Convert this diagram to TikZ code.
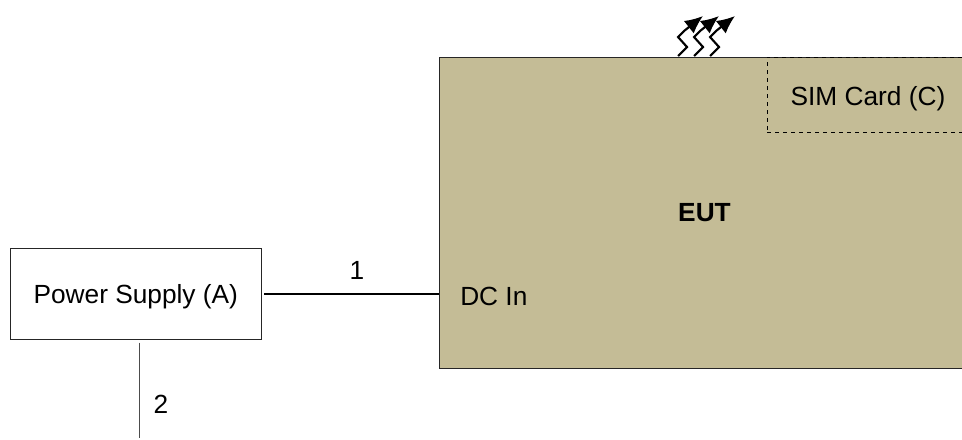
\documentclass[tikz,border=0pt]{standalone}
\usepackage{fontspec}
\setmainfont{Liberation Sans}
\usetikzlibrary{positioning, arrows.meta}
\definecolor{eutfill}{HTML}{C4BC96}

\begin{document}
\begin{tikzpicture}[
x=0.75pt, y=-0.75pt,
every node/.style={
font=\fontsize{19.7pt}{23pt}\selectfont,
text=black,
inner sep=0pt
},
unitbox/.style={
draw=black!85,
rectangle,
line width=0.75pt
},
cable/.style={line width=1.5pt, shorten <=2pt},
thincable/.style={draw=black!70, line width=0.7pt, shorten <=2pt},
emission/.style={line width=1.6pt, -{Latex[length=13.5pt,width=12pt]}}
]
\useasboundingbox (0,0) rectangle (962,439);
\node[unitbox, fill=eutfill, minimum width=394pt, minimum height=233.25pt] (eut) at (702.5,212.5) {};
\node[unitbox, text height=18pt, minimum width=188pt, minimum height=68pt] (psu) at (135.75,294) {Power Supply (A)};
\node[font=\fontsize{19.7pt}{23pt}\selectfont\bfseries] (eutlabel) at (704.5,213) {EUT};
\node[anchor=west] (dcin) at (460,296) {DC In};
\node[draw=black, dashed, line width=0.75pt, minimum width=150pt, minimum height=56.25pt] (sim) at (867,94.5) {};
\node (simlabel) at (868,99) {SIM Card (C)};
\coordinate (psuend) at (139.5,438);
% cables
\draw[cable] (psu.east) -- (psu.east -| eut.west);
\draw[thincable] (psu.south -| psuend) -- (psuend);
\node (one) at (357,270) {1};
\node (two) at (161,404) {2};
% radiated emission
\foreach \i in {0,16,32}
\draw[emission] (678+\i,56) -- (687+\i,47) -- (678+\i,37) -- (684+\i,31) -- (703+\i,16);
\end{tikzpicture}
\end{document}
